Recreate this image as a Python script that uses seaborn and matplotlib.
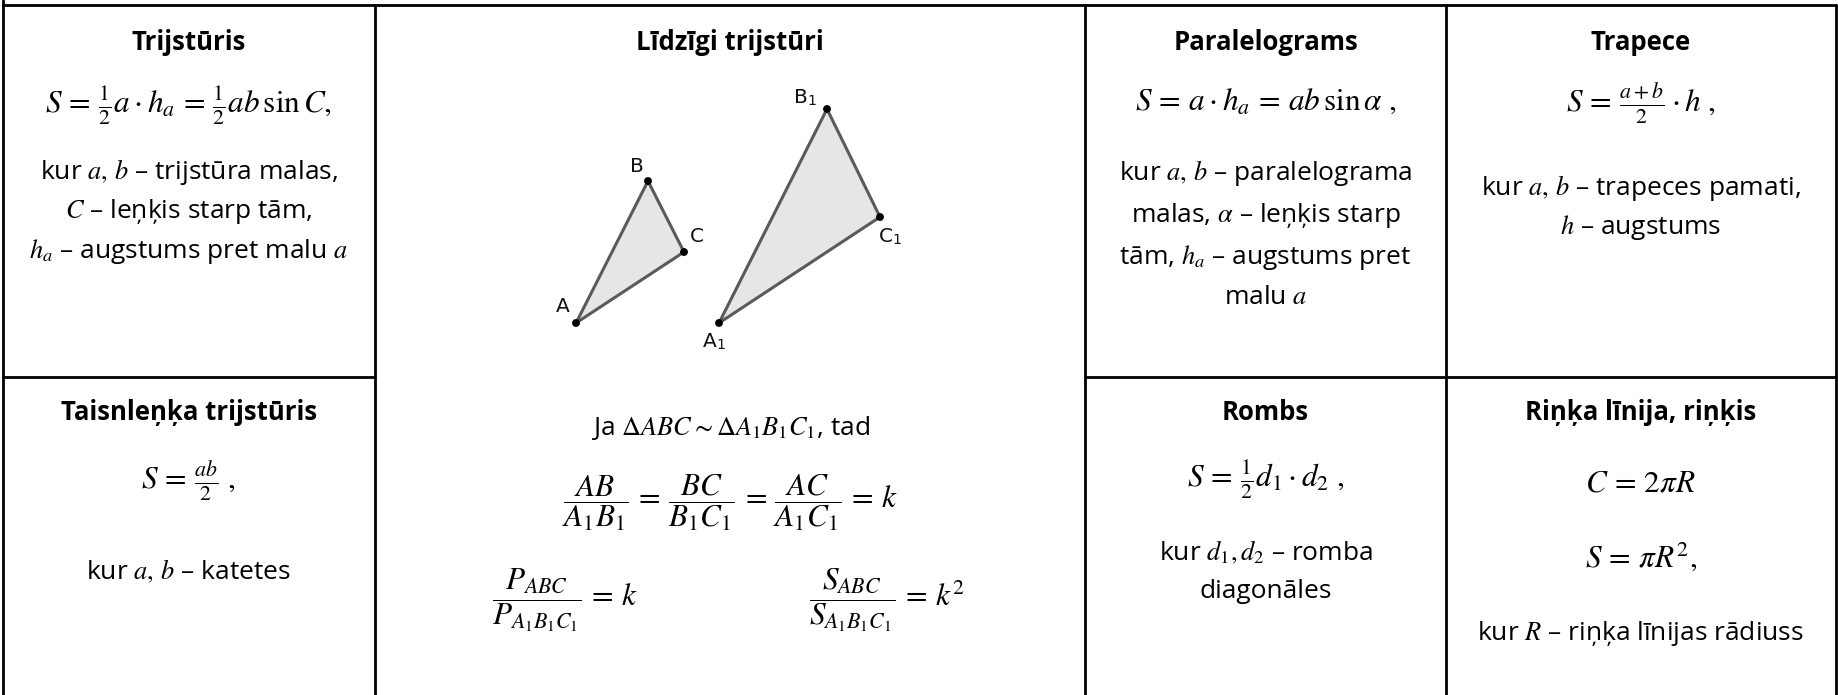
import numpy as np
import matplotlib
matplotlib.use("Agg")
import matplotlib.pyplot as plt
import seaborn as sns

# cell titles (row 1 then row 2)
titles_top = ["Trijstūris", "Līdzīgi trijstūri", "Paralelograms", "Trapece"]
titles_bottom = ["Taisnleņķa trijstūris", "Rombs", "Riņķa līnija, riņķis"]

# cell contents
trijsturis_lines = [
    r"$S\,=\,\frac{1}{2}a \cdot h_a\,=\,\frac{1}{2}ab\,\sin C,$",
    r"kur $a,\,b$ – trijstūra malas,",
    r"$C$ – leņķis starp tām,",
    r"$h_a$ – augstums pret malu $a$",
]
paralelograms_lines = [
    r"$S\,=\,a \cdot h_a\,=\,ab\,\sin \alpha\ ,$",
    r"kur $a,\,b$ – paralelograma",
    r"malas, $\alpha$ – leņķis starp",
    r"tām, $h_a$ – augstums pret",
    r"malu $a$",
]
trapece_lines = [
    r"$S\,=\,\frac{a+b}{2} \cdot h\ ,$",
    r"kur $a,\,b$ – trapeces pamati,",
    r"$h$ – augstums",
]
taisnlenka_lines = [
    r"$S\,=\,\frac{ab}{2}\ ,$",
    r"kur $a,\,b$ – katetes",
]
rombs_lines = [
    r"$S\,=\,\frac{1}{2}d_1 \cdot d_2\ ,$",
    r"kur $d_1, d_2$ – romba",
    r"diagonāles",
]
rinkis_lines = [
    r"$C\,=\,2\pi R$",
    r"$S\,=\,\pi R^2,$",
    r"kur $R$ – riņķa līnijas rādiuss",
]
similar_lines = [
    r"Ja $\Delta ABC \sim \Delta A_1B_1C_1$, tad",
    r"$\dfrac{AB}{A_1B_1}\,=\,\dfrac{BC}{B_1C_1}\,=\,\dfrac{AC}{A_1C_1}\,=\,k$",
    r"$\dfrac{P_{ABC}}{P_{A_1B_1C_1}}\,=\,k$",
    r"$\dfrac{S_{ABC}}{S_{A_1B_1C_1}}\,=\,k^2$",
]

# similar triangles (pixel coordinates of the drawing)
tri_small_x = [576, 648, 684]
tri_small_y = [323, 181, 252]
tri_big_x = [719, 827, 880]
tri_big_y = [323, 109, 217]
vertex_labels_small = ["A", "B", "C"]
vertex_labels_big = [r"A$_\mathregular{1}$", r"B$_\mathregular{1}$", r"C$_\mathregular{1}$"]

sns.set_theme(style="white")
plt.rcParams['font.family'] = ['Open Sans', 'DejaVu Sans']
plt.rcParams['mathtext.fontset'] = 'stix'

W, H = 1838, 695
fig = plt.figure(figsize=(W / 100, H / 100), dpi=100)
ax = fig.add_axes([0, 0, 1, 1])
ax.set_xlim(0, W)
ax.set_ylim(H, 0)
ax.axis('off')

# table grid
lw = 2.0
x_left, x_v1, x_v2, x_v3, x_right = 2.5, 375, 1085, 1446, 1835.5
y_top, y_mid = 5, 377
ax.plot([x_left, x_right], [y_top, y_top], color='black', lw=lw)
for xv in [x_left, x_v1, x_v2, x_v3, x_right]:
    ax.plot([xv, xv], [0 if xv == x_left else y_top, H], color='black', lw=lw)
ax.plot([x_left, x_v1], [y_mid, y_mid], color='black', lw=lw)
ax.plot([x_v2, x_right], [y_mid, y_mid], color='black', lw=lw)

cx = [(x_left + x_v1) / 2, (x_v1 + x_v2) / 2, (x_v2 + x_v3) / 2, (x_v3 + x_right) / 2]
fs_title = 18.5
fs_text = 19
fs_math = 22.5

def put(x, y, s, size=fs_text, **kw):
    ax.text(x, y, s, ha='center', va='center', fontsize=size, color='black', **kw)

# titles
for i, t in enumerate(titles_top):
    put(cx[i], 43, t, size=fs_title, fontweight='bold')
for x, t in zip([cx[0], cx[2], cx[3]], titles_bottom):
    put(x, 413, t, size=fs_title, fontweight='bold')

# Trijstūris
put(cx[0], 106, trijsturis_lines[0], size=fs_math)
for y, s in zip([172, 212, 252], trijsturis_lines[1:]):
    put(cx[0], y, s)

# Paralelograms
put(cx[2], 102, paralelograms_lines[0], size=fs_math)
for y, s in zip([173, 215, 257, 297], paralelograms_lines[1:]):
    put(cx[2], y, s)

# Trapece
put(cx[3], 104, trapece_lines[0], size=fs_math)
for y, s in zip([188, 227], trapece_lines[1:]):
    put(cx[3], y, s)

# Taisnleņķa trijstūris
put(cx[0], 482, taisnlenka_lines[0], size=fs_math)
put(cx[0], 572, taisnlenka_lines[1])

# Rombs
put(cx[2], 480, rombs_lines[0], size=fs_math)
put(cx[2], 553, rombs_lines[1])
put(cx[2], 591, rombs_lines[2])

# Riņķa līnija, riņķis
put(cx[3], 484, rinkis_lines[0], size=fs_math)
put(cx[3], 557, rinkis_lines[1], size=fs_math)
put(cx[3], 633, rinkis_lines[2])

# similar triangles
for tx, ty in [(tri_small_x, tri_small_y), (tri_big_x, tri_big_y)]:
    ax.fill(tx, ty, facecolor='#e6e6e6', edgecolor='#5a5a5a', lw=2.2, joinstyle='round', zorder=2)
sns.scatterplot(x=tri_small_x + tri_big_x, y=tri_small_y + tri_big_y, color='black',
                s=32, edgecolor='none', ax=ax, zorder=3)
lab_dx_small = [-13, -11, 13]
lab_dy_small = [-17, -14, -15]
lab_dx_big = [-5, -22, 10]
lab_dy_big = [19, -11, 20]
for i in range(3):
    ax.text(tri_small_x[i] + lab_dx_small[i], tri_small_y[i] + lab_dy_small[i], vertex_labels_small[i],
            ha='center', va='center', fontsize=14.5, family='DejaVu Sans', color='#111111')
    ax.text(tri_big_x[i] + lab_dx_big[i], tri_big_y[i] + lab_dy_big[i], vertex_labels_big[i],
            ha='center', va='center', fontsize=14.5, family='DejaVu Sans', color='#111111')

put(cx[1], 428, similar_lines[0])
put(cx[1], 503, similar_lines[1], size=fs_math)
put(565, 600, similar_lines[2], size=fs_math)
put(887, 600, similar_lines[3], size=fs_math)

fig.savefig("out.png", dpi=100, facecolor='white')
